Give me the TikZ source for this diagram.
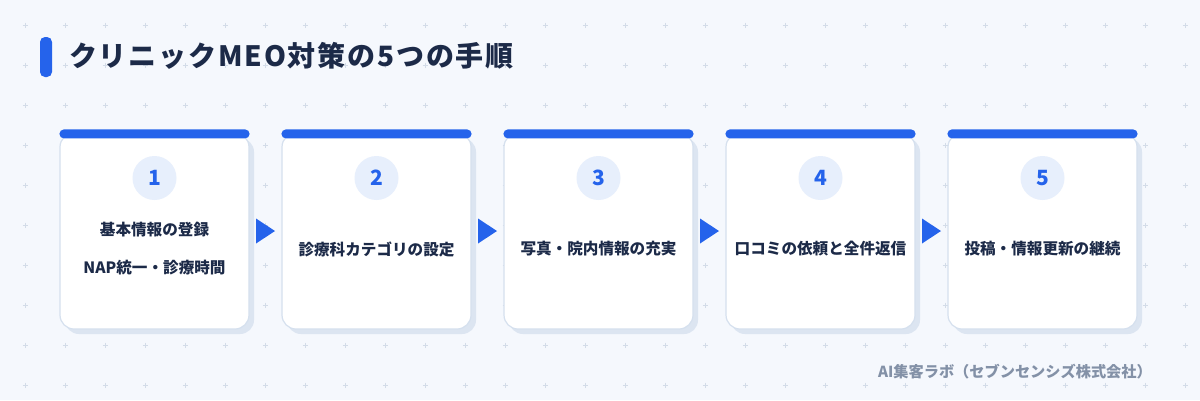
\documentclass[tikz,border=0pt]{standalone}
\usepackage{fontspec}
\setmainfont{Noto Sans CJK JP}
\usetikzlibrary{shadows,calc}

\definecolor{bgc}{HTML}{F5F8FD}
\definecolor{accent}{HTML}{2563EB}
\definecolor{navy}{HTML}{1C2A48}
\definecolor{numfill}{HTML}{E7EFFC}
\definecolor{cardline}{HTML}{D5E0EE}
\definecolor{shadowc}{HTML}{DCE5F1}
\definecolor{footc}{HTML}{8391A7}
\definecolor{gridc}{HTML}{D3DCE8}

\tikzset{
  card/.style={draw=cardline,line width=1.2pt,fill=white,rounded corners=14pt,
    minimum width=189pt,minimum height=196pt,inner sep=0pt,
    drop shadow={shadow xshift=5pt,shadow yshift=-5pt,fill=shadowc,opacity=1}},
  numc/.style={circle,fill=numfill,minimum size=44pt,inner sep=0pt,text=accent,
    font=\fontsize{21pt}{21pt}\selectfont\bfseries},
  steptext/.style={text=navy,inner sep=0pt,font=\fontsize{15.6pt}{16pt}\selectfont\bfseries},
  topbar/.style={fill=accent,rounded corners=4.5pt},
  arrowtri/.style={fill=accent}
}

\begin{document}
\begin{tikzpicture}[x=1pt,y=-1pt]
  \fill[bgc] (0,0) rectangle (1200,400);
  \useasboundingbox (0,0) rectangle (1200,400);
  % grid marks
  \foreach \x in {25,65,...,1185}
    \foreach \y in {25,65,...,385}
      \draw[gridc,line width=0.8pt] (\x-2.5,\y) -- (\x+2.5,\y) (\x,\y-2.5) -- (\x,\y+2.5);

  % title
  \fill[accent,rounded corners=5pt] (40,37) rectangle (52,77);
  \node[anchor=west,text=navy,inner sep=0pt,font=\fontsize{28pt}{28pt}\selectfont\bfseries\addfontfeatures{LetterSpace=6.5}] (title) at (69,56) {クリニックMEO対策の5つの手順};

  % cards
  \node[card] (card1) at (154.5,231) {};
  \node[card] (card2) at (376.5,231) {};
  \node[card] (card3) at (598.5,231) {};
  \node[card] (card4) at (820.5,231) {};
  \node[card] (card5) at (1042.5,231) {};
  \fill[topbar] ([yshift=3pt]card1.north west) rectangle ([yshift=-6pt]card1.north east);
  \fill[topbar] ([yshift=3pt]card2.north west) rectangle ([yshift=-6pt]card2.north east);
  \fill[topbar] ([yshift=3pt]card3.north west) rectangle ([yshift=-6pt]card3.north east);
  \fill[topbar] ([yshift=3pt]card4.north west) rectangle ([yshift=-6pt]card4.north east);
  \fill[topbar] ([yshift=3pt]card5.north west) rectangle ([yshift=-6pt]card5.north east);

  \node[numc] (num1) at (154.5,178) {1};
  \node[numc] (num2) at (376.5,178) {2};
  \node[numc] (num3) at (598.5,178) {3};
  \node[numc] (num4) at (820.5,178) {4};
  \node[numc] (num5) at (1042.5,178) {5};

  \node[steptext] (text1a) at (154.5,230) {基本情報の登録};
  \node[steptext] (text1b) at (154.5,268) {NAP統一・診療時間};
  \node[steptext] (text2) at (376.5,249) {診療科カテゴリの設定};
  \node[steptext] (text3) at (598.5,249) {写真・院内情報の充実};
  \node[steptext] (text4) at (820.5,249) {口コミの依頼と全件返信};
  \node[steptext] (text5) at (1042.5,249) {投稿・情報更新の継続};

  % arrows between cards
  \coordinate (mid12) at ($(card1.east)!0.5!(card2.west)$);
  \coordinate (mid23) at ($(card2.east)!0.5!(card3.west)$);
  \coordinate (mid34) at ($(card3.east)!0.5!(card4.west)$);
  \coordinate (mid45) at ($(card4.east)!0.5!(card5.west)$);
  \fill[arrowtri] ($(mid12)+(-9.5,-12.5)$) -- ++(19,12.5) -- ++(-19,12.5) -- cycle;
  \fill[arrowtri] ($(mid23)+(-9.5,-12.5)$) -- ++(19,12.5) -- ++(-19,12.5) -- cycle;
  \fill[arrowtri] ($(mid34)+(-9.5,-12.5)$) -- ++(19,12.5) -- ++(-19,12.5) -- cycle;
  \fill[arrowtri] ($(mid45)+(-9.5,-12.5)$) -- ++(19,12.5) -- ++(-19,12.5) -- cycle;

  % footer
  \node[anchor=east,text=footc,inner sep=0pt,font=\fontsize{15.2pt}{16pt}\selectfont\bfseries] (credit) at (1152,372) {AI集客ラボ（セブンセンシズ株式会社）};
\end{tikzpicture}
\end{document}
